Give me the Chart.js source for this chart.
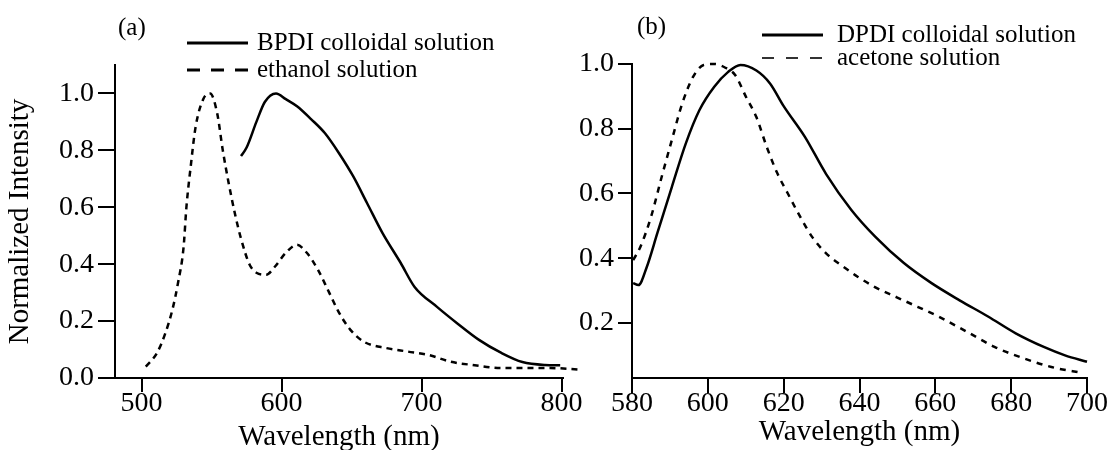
<!DOCTYPE html>
<html>
<head>
<meta charset="utf-8">
<script src="https://cdn.jsdelivr.net/npm/chart.js@4.4.1/dist/chart.umd.min.js"></script>
<style>
  html, body { margin: 0; padding: 0; background: #fff; }
  #wrap { position: relative; width: 1108px; height: 450px; overflow: hidden; }
  canvas { position: absolute; top: 0; }
  #chartA { left: 0; }
  #chartB { left: 560px; }
</style>
</head>
<body>
<div id="wrap">
  <canvas id="chartA" width="590" height="450"></canvas>
  <canvas id="chartB" width="548" height="450"></canvas>
</div>
<script>
// panel (a)
const bpdiWavelength = [571, 575, 582, 588, 596, 603, 611, 621, 631, 641, 651, 661, 672, 685, 695, 711, 726, 741, 757, 772, 788, 799];
const bpdiIntensity  = [0.78, 0.81, 0.90, 0.97, 1.00, 0.98, 0.955, 0.91, 0.86, 0.79, 0.71, 0.615, 0.51, 0.405, 0.32, 0.25, 0.19, 0.134, 0.088, 0.056, 0.046, 0.045];

const ethanolWavelength = [503, 511, 517, 522, 526, 530, 532, 535, 538.5, 544, 549, 554, 558, 562, 567, 571, 577, 582, 589, 595, 603, 611, 618, 626, 634, 641, 649, 659, 675, 690, 705, 721, 736, 757, 777, 792, 812];
const ethanolIntensity  = [0.04, 0.088, 0.158, 0.24, 0.334, 0.46, 0.60, 0.74, 0.88, 0.98, 1.0, 0.93, 0.80, 0.69, 0.57, 0.49, 0.40, 0.37, 0.363, 0.39, 0.44, 0.468, 0.44, 0.38, 0.30, 0.23, 0.17, 0.127, 0.105, 0.093, 0.081, 0.057, 0.046, 0.035, 0.035, 0.035, 0.03];

// panel (b)
const dpdiWavelength = [580.3, 581.7, 583.9, 586.7, 590.5, 594.2, 597.8, 601.7, 605.3, 608.6, 612.8, 616.4, 620, 625.6, 631.2, 637.8, 644.2, 651.7, 659, 666.4, 673.9, 681.2, 688.6, 694.2, 700];
const dpdiIntensity  = [0.323, 0.317, 0.373, 0.478, 0.62, 0.755, 0.858, 0.93, 0.975, 0.997, 0.98, 0.94, 0.87, 0.775, 0.66, 0.55, 0.466, 0.385, 0.323, 0.27, 0.22, 0.168, 0.126, 0.10, 0.08];

const acetoneWavelength = [580.3, 582.2, 585, 587.8, 590.5, 593.3, 596.1, 598.9, 601.7, 604.4, 607.2, 610, 612.8, 615.5, 618.3, 621.1, 623.8, 627.5, 631.2, 635, 639.5, 644.2, 649.7, 655.3, 660.8, 668.3, 675.6, 683, 690.6, 699];
const acetoneIntensity  = [0.394, 0.435, 0.527, 0.65, 0.765, 0.88, 0.96, 0.997, 1.0, 0.99, 0.966, 0.90, 0.836, 0.745, 0.663, 0.60, 0.54, 0.466, 0.415, 0.38, 0.343, 0.31, 0.28, 0.25, 0.22, 0.173, 0.126, 0.092, 0.064, 0.045];

// tick labels
const xTicksA = [500, 600, 700, 800];
const yTicksA = [0.0, 0.2, 0.4, 0.6, 0.8, 1.0];
const xTicksB = [580, 600, 620, 640, 660, 680, 700];
const yTicksB = [0.2, 0.4, 0.6, 0.8, 1.0];

const SERIF = "'Liberation Serif', 'Times New Roman', serif";
const INK = '#000';

function toPoints(xs, ys) {
  return xs.map((x, i) => ({ x: x, y: ys[i] }));
}

// draws the "(a)" label and the little legend in the top area
const panelLegend = {
  id: 'panelLegend',
  afterDraw(chart, args, opts) {
    const ctx = chart.ctx;
    ctx.save();
    ctx.fillStyle = INK;
    ctx.strokeStyle = INK;
    ctx.textBaseline = 'middle';
    ctx.font = '25px ' + SERIF;
    ctx.fillText(opts.label, opts.labelX, opts.labelY);
    chart.data.datasets.forEach((ds, i) => {
      const y = opts.y + i * opts.rowGap;
      ctx.beginPath();
      ctx.setLineDash(opts.dashes[i]);
      ctx.lineWidth = opts.widths[i];
      ctx.moveTo(opts.x, y);
      ctx.lineTo(opts.x + opts.len, y);
      ctx.stroke();
      ctx.setLineDash([]);
      ctx.fillText(ds.label, opts.x + opts.len + opts.gap, y);
    });
    ctx.restore();
  }
};

function axisX(min, max, ticks, tickLen, tickPad, titlePadBottom) {
  return {
    type: 'linear',
    min: min,
    max: max,
    afterBuildTicks: s => { s.ticks = ticks.map(v => ({ value: v })); },
    afterFit: s => { s.height = 72; s.paddingLeft = 0; s.paddingRight = 0; },
    grid: { drawOnChartArea: false, tickLength: tickLen, color: INK, lineWidth: 2 },
    border: { color: INK, width: 2 },
    ticks: { color: INK, font: { family: SERIF, size: 28 }, padding: tickPad, maxRotation: 0, autoSkip: false },
    title: { display: true, text: 'Wavelength (nm)', color: INK, font: { family: SERIF, size: 29 }, padding: { top: 0, bottom: titlePadBottom } }
  };
}

function axisY(min, max, ticks, width, tickLen, title) {
  return {
    min: min,
    max: max,
    afterBuildTicks: s => { s.ticks = ticks.map(v => ({ value: v })); },
    afterFit: s => { s.width = width; s.paddingTop = 0; s.paddingBottom = 0; },
    grid: { drawOnChartArea: false, tickLength: tickLen, color: INK, lineWidth: 2 },
    border: { color: INK, width: 2 },
    ticks: { color: INK, font: { family: SERIF, size: 28 }, padding: 4, autoSkip: false, callback: v => v.toFixed(1) },
    title: { display: !!title, text: title || '', color: INK, font: { family: SERIF, size: 29 }, padding: { top: 3, bottom: 0 } }
  };
}

const lineStyle = { borderColor: INK, borderWidth: 2.5, pointRadius: 0, cubicInterpolationMode: 'monotone', clip: false, fill: false };

new Chart(document.getElementById('chartA'), {
  type: 'line',
  data: {
    datasets: [
      Object.assign({ label: 'BPDI colloidal solution', data: toPoints(bpdiWavelength, bpdiIntensity) }, lineStyle),
      Object.assign({ label: 'ethanol solution', data: toPoints(ethanolWavelength, ethanolIntensity), borderDash: [6, 5] }, lineStyle)
    ]
  },
  options: {
    responsive: false,
    animation: false,
    layout: { padding: { top: 65, right: 27, left: 0, bottom: 0 } },
    plugins: {
      legend: { display: false },
      tooltip: { enabled: false },
      panelLegend: { label: '(a)', labelX: 118, labelY: 28, x: 187, y: 43, rowGap: 27, len: 61, gap: 9, dashes: [[], [13, 11]], widths: [3, 3] }
    },
    scales: {
      x: axisX(481, 801, xTicksA, 14, -5, -5),
      y: axisY(0, 1.1, yTicksA, 115, 17, 'Normalized Intensity')
    }
  },
  plugins: [panelLegend]
});

new Chart(document.getElementById('chartB'), {
  type: 'line',
  data: {
    datasets: [
      Object.assign({ label: 'DPDI colloidal solution', data: toPoints(dpdiWavelength, dpdiIntensity) }, lineStyle),
      Object.assign({ label: 'acetone solution', data: toPoints(acetoneWavelength, acetoneIntensity), borderDash: [6, 6] }, lineStyle)
    ]
  },
  options: {
    responsive: false,
    animation: false,
    layout: { padding: { top: 64, right: 21, left: 0, bottom: 0 } },
    plugins: {
      legend: { display: false },
      tooltip: { enabled: false },
      panelLegend: { label: '(b)', labelX: 77, labelY: 27, x: 202, y: 35, rowGap: 23, len: 61, gap: 14, dashes: [[], [12, 12]], widths: [3, 1.6] }
    },
    scales: {
      x: axisX(580, 700, xTicksB, 15, -6, 0),
      y: axisY(0.03, 1.0, yTicksB, 72, 14, null)
    }
  },
  plugins: [panelLegend]
});
</script>
</body>
</html>
